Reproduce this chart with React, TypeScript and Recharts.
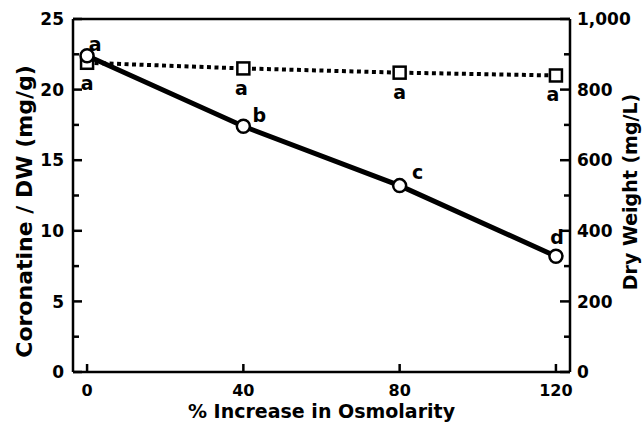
import React from 'react';
import { ComposedChart, Line, XAxis, YAxis, LabelList, ReferenceLine } from 'recharts';

const osmolarity = [0, 40, 80, 120];
const coronatine = [22.4, 17.4, 13.2, 8.2];
const dryWeight = [876, 860, 848, 840];
const coronatineLetters = ['a', 'b', 'c', 'd'];
const dryWeightLetters = ['a', 'a', 'a', 'a'];

const xTicks = [0, 40, 80, 120];
const leftTicks = [0, 2.5, 5, 7.5, 10, 12.5, 15, 17.5, 20, 22.5, 25];
const leftLabeled = [0, 5, 10, 15, 20, 25];
const rightTicks = [0, 100, 200, 300, 400, 500, 600, 700, 800, 900, 1000];
const rightLabeled = [0, 200, 400, 600, 800, 1000];

const xTitle = '% Increase in Osmolarity';
const leftTitle = 'Coronatine / DW (mg/g)';
const rightTitle = 'Dry Weight (mg/L)';

const data = osmolarity.map((x, i) => ({
  x,
  cor: coronatine[i],
  dw: dryWeight[i],
  corLetter: coronatineLetters[i],
  dwLetter: dryWeightLetters[i],
}));

const FONT = '"DejaVu Sans", "Liberation Sans", Arial, sans-serif';
const INK = '#000';

const corOffsets = [
  [8, -12],
  [16, -11],
  [18, -13],
  [1, -19],
];
const dwOffsets = [
  [0, 20],
  [-2, 20],
  [0, 20],
  [-3, 19],
];

const fmt = (v: number) => (v >= 1000 ? v.toLocaleString('en-US') : String(v));

const LeftTick = (props: any) => {
  const { x, y, payload } = props;
  const v = payload.value;
  const major = leftLabeled.includes(v);
  return (
    <g>
      <line x1={x} x2={x + (major ? 9 : 6)} y1={y} y2={y} stroke={INK} strokeWidth={2.5} />
      {major && (
        <text x={x - 9} y={y} dy="0.36em" textAnchor="end" fontFamily={FONT} fontWeight="bold" fontSize={17} fill={INK}>
          {fmt(v)}
        </text>
      )}
    </g>
  );
};

const RightTick = (props: any) => {
  const { x, y, payload } = props;
  const v = payload.value;
  const major = rightLabeled.includes(v);
  return (
    <g>
      <line x1={x} x2={x - (major ? 10 : 6)} y1={y} y2={y} stroke={INK} strokeWidth={2.5} />
      {major && (
        <text x={x + 7} y={y} dy="0.36em" textAnchor="start" fontFamily={FONT} fontWeight="bold" fontSize={17} fill={INK}>
          {fmt(v)}
        </text>
      )}
    </g>
  );
};

const BottomTick = (props: any) => {
  const { x, y, payload } = props;
  return (
    <g>
      <line x1={x} x2={x} y1={y} y2={y - 8} stroke={INK} strokeWidth={2.5} />
      <text x={x} y={y + 24} textAnchor="middle" fontFamily={FONT} fontWeight="bold" fontSize={16} fill={INK}>
        {payload.value}
      </text>
    </g>
  );
};

const SquareDot = (props: any) => {
  const { cx, cy, index } = props;
  if (cx == null || cy == null) return <g key={index} />;
  return <rect key={index} x={cx - 6} y={cy - 6} width={12} height={12} fill="#fff" stroke={INK} strokeWidth={2.5} />;
};

const CircleDot = (props: any) => {
  const { cx, cy, index } = props;
  if (cx == null || cy == null) return <g key={index} />;
  return <circle key={index} cx={cx} cy={cy} r={6.5} fill="#fff" stroke={INK} strokeWidth={2.5} />;
};

const makeLetter = (offsets: number[][]) => (props: any) => {
  const { x, y, index, value } = props;
  const o = offsets[index] || [0, 0];
  return (
    <text x={x + o[0]} y={y + o[1]} dy="0.36em" textAnchor="middle" fontFamily={FONT} fontWeight="bold" fontSize={19} fill={INK}>
      {value}
    </text>
  );
};

export default function App() {
  return (
    <div style={{ position: 'absolute', left: 8, top: 8, width: 636, height: 415 }}>
      <ComposedChart
        width={636}
        height={415}
        data={data}
        margin={{ top: 11, right: 0, left: 0, bottom: 0 }}
      >
        <XAxis
          dataKey="x"
          type="number"
          domain={[-3.6, 123.6]}
          ticks={xTicks}
          interval={0}
          height={51}
          tickSize={0}
          tickMargin={0}
          tickLine={false}
          axisLine={{ stroke: INK, strokeWidth: 2.5 }}
          tick={<BottomTick />}
          label={{
            content: (p: any) => {
              const vb = p.viewBox || {};
              return (
                <text x={vb.x + vb.width / 2} y={vb.y + 46} textAnchor="middle" fontFamily={FONT} fontWeight="bold" fontSize={19} fill={INK}>
                  {xTitle}
                </text>
              );
            },
          }}
        />
        <YAxis
          yAxisId="left"
          orientation="left"
          type="number"
          domain={[0, 25]}
          ticks={leftTicks}
          interval={0}
          width={65}
          tickSize={0}
          tickMargin={0}
          tickLine={false}
          axisLine={{ stroke: INK, strokeWidth: 2.5 }}
          tick={<LeftTick />}
          label={{
            content: (p: any) => {
              const vb = p.viewBox || {};
              const cx = 24;
              const cy = vb.y + vb.height / 2 + 16;
              return (
                <text x={cx} y={cy} transform={`rotate(-90 ${cx} ${cy})`} textAnchor="middle" fontFamily={FONT} fontWeight="bold" fontSize={22} fill={INK}>
                  {leftTitle}
                </text>
              );
            },
          }}
        />
        <YAxis
          yAxisId="right"
          orientation="right"
          type="number"
          domain={[0, 1000]}
          ticks={rightTicks}
          interval={0}
          width={74}
          tickSize={0}
          tickMargin={0}
          tickLine={false}
          axisLine={{ stroke: INK, strokeWidth: 2.5 }}
          tick={<RightTick />}
          label={{
            content: () => {
              const cx = 629;
              const cy = 184;
              return (
                <text x={cx} y={cy} transform={`rotate(-90 ${cx} ${cy})`} textAnchor="middle" fontFamily={FONT} fontWeight="bold" fontSize={19} fill={INK}>
                  {rightTitle}
                </text>
              );
            },
          }}
        />
        <ReferenceLine yAxisId="left" y={25} stroke={INK} strokeWidth={2.5} />
        <Line
          yAxisId="right"
          dataKey="dw"
          type="linear"
          stroke={INK}
          strokeWidth={4}
          strokeDasharray="4 3.5"
          dot={<SquareDot />}
          activeDot={false}
          isAnimationActive={false}
        >
          <LabelList dataKey="dwLetter" content={makeLetter(dwOffsets)} />
        </Line>
        <Line
          yAxisId="left"
          dataKey="cor"
          type="linear"
          stroke={INK}
          strokeWidth={5}
          dot={<CircleDot />}
          activeDot={false}
          isAnimationActive={false}
        >
          <LabelList dataKey="corLetter" content={makeLetter(corOffsets)} />
        </Line>
      </ComposedChart>
    </div>
  );
}
